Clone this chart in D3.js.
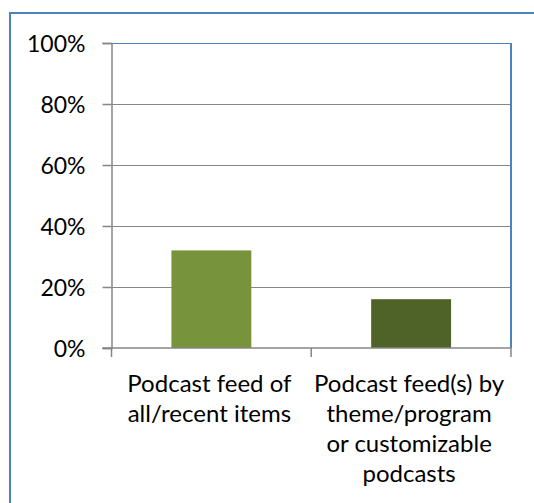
<!DOCTYPE html>
<html>
<head>
<meta charset="utf-8">
<script src="https://cdn.jsdelivr.net/npm/d3@7"></script>
<style>
  html, body { margin: 0; padding: 0; background: #fff; }
  svg { display: block; }
  text { font-family: Lato, "Open Sans", sans-serif; fill: #000; }
</style>
</head>
<body>
<svg id="chart" width="534" height="503"></svg>
<script>
const categories = ["Podcast feed of all/recent items", "Podcast feed(s) by theme/program or customizable podcasts"];
const categoryLines = [
  ["Podcast feed of", "all/recent items"],
  ["Podcast feed(s) by", "theme/program", "or customizable", "podcasts"]
];
const values = [0.32, 0.16];
const barColors = ["#77933C", "#4F6228"];
const yTicks = [0, 0.2, 0.4, 0.6, 0.8, 1.0];

const svg = d3.select("#chart");
const pLeft = 111.5, pRight = 511, pTop = 43, pBottom = 348;

// outer chart border
svg.append("rect")
  .attr("x", 10).attr("y", 13)
  .attr("width", 700).attr("height", 700)
  .attr("fill", "none").attr("stroke", "#4F81BD").attr("stroke-width", 2);

const x = d3.scaleBand().domain(categories).range([pLeft, pRight])
  .paddingInner(0.6).paddingOuter(0.3);
const y = d3.scaleLinear().domain([0, 1]).range([pBottom, pTop]);

// gridlines
svg.append("g").selectAll("line").data(yTicks.filter(d => d > 0 && d < 1)).join("line")
  .attr("x1", pLeft).attr("x2", pRight)
  .attr("y1", d => Math.round(y(d)) + 0.5).attr("y2", d => Math.round(y(d)) + 0.5)
  .attr("stroke", "#868686").attr("stroke-width", 1);

// plot area border top/right (blue)
svg.append("line").attr("x1", pLeft).attr("x2", pRight + 0.5)
  .attr("y1", Math.round(y(1)) + 0.5).attr("y2", Math.round(y(1)) + 0.5)
  .attr("stroke", "#4F81BD").attr("stroke-width", 1);
svg.append("line").attr("x1", pRight).attr("x2", pRight)
  .attr("y1", y(1)).attr("y2", y(0))
  .attr("stroke", "#4F81BD").attr("stroke-width", 2);

// bars
svg.append("g").selectAll("rect").data(values).join("rect")
  .attr("x", (d, i) => x(categories[i]))
  .attr("y", d => y(d))
  .attr("width", x.bandwidth())
  .attr("height", d => y(0) - y(d))
  .attr("fill", (d, i) => barColors[i]);

// y axis
const yAxis = d3.axisLeft(y).tickValues(yTicks).tickFormat(d3.format(".0%"))
  .tickSize(9).tickPadding(17);
const gy = svg.append("g").attr("transform", `translate(${pLeft},0)`).call(yAxis);
gy.select(".domain").attr("stroke", "#868686").attr("stroke-width", 1.5);
gy.selectAll(".tick line").attr("stroke", "#868686").attr("stroke-width", 1.5);
gy.selectAll(".tick text").attr("font-size", 23).attr("font-family", "Lato, sans-serif")
  .attr("fill", "#000").attr("dy", "0.35em");

// x axis line
svg.append("line").attr("x1", pLeft - 9).attr("x2", pRight)
  .attr("y1", y(0)).attr("y2", y(0))
  .attr("stroke", "#868686").attr("stroke-width", 1.5);
// category boundary ticks
const bounds = [pLeft, (pLeft + pRight) / 2, pRight];
svg.append("g").selectAll("line").data(bounds).join("line")
  .attr("x1", d => d).attr("x2", d => d)
  .attr("y1", y(0)).attr("y2", y(0) + 9)
  .attr("stroke", "#868686").attr("stroke-width", 1.5);

// category labels
categoryLines.forEach((lines, i) => {
  const cx = x(categories[i]) + x.bandwidth() / 2 - 2;
  const t = svg.append("text").attr("text-anchor", "middle").attr("font-size", 24);
  lines.forEach((ln, j) => {
    t.append("tspan").attr("x", cx).attr("y", 392 + j * 30).text(ln);
  });
});
</script>
</body>
</html>
